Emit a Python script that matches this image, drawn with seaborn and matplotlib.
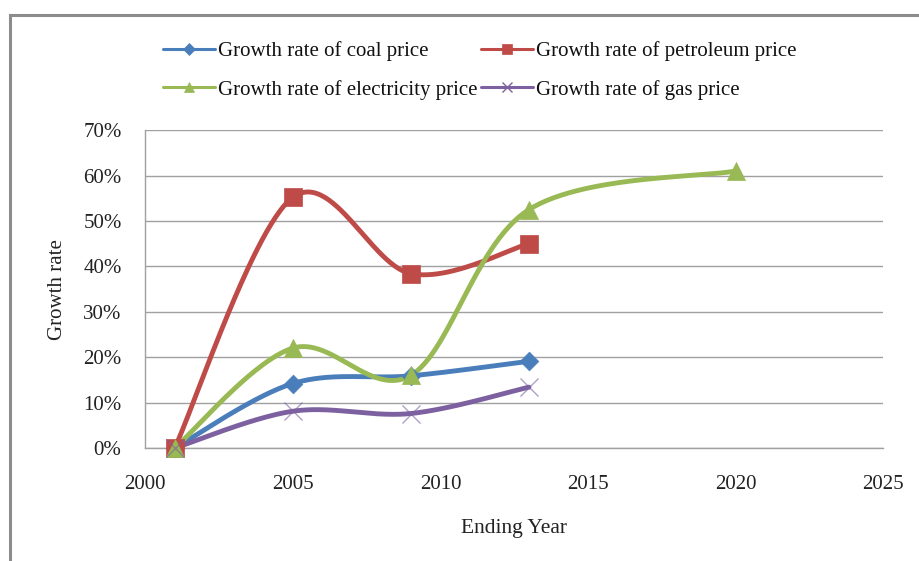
import numpy as np
import pandas as pd
import matplotlib
matplotlib.use("Agg")
import matplotlib.pyplot as plt
from matplotlib.lines import Line2D
from matplotlib.patches import Rectangle
import seaborn as sns

years_short = [2001, 2005, 2009, 2013]
years_elec = [2001, 2005, 2009, 2013, 2020]
coal = [0.0, 14.2, 15.9, 19.1]
petroleum = [0.0, 55.2, 38.4, 45.0]
electricity = [0.0, 22.0, 16.0, 52.5, 61.0]
gas = [0.0, 8.1, 7.6, 13.4]

names = ["Growth rate of coal price", "Growth rate of petroleum price",
         "Growth rate of electricity price", "Growth rate of gas price"]
colors = ["#4A7EBB", "#BE4B48", "#98B954", "#7D60A0"]
markers = ["D", "s", "^", "x"]
msizes = [9.5, 13, 13, 13]

series = [(years_short, coal), (years_short, petroleum), (years_elec, electricity), (years_short, gas)]


def smooth(xs, ys, n=60):
    """Excel-like Catmull-Rom Bezier smoothing."""
    P = np.column_stack([xs, ys]).astype(float)
    out = []
    for i in range(len(P) - 1):
        p0 = P[i - 1] if i > 0 else P[i]
        p1 = P[i]
        p2 = P[i + 1]
        p3 = P[i + 2] if i + 2 < len(P) else P[i + 1]
        c1 = p1 + (p2 - p0) / 6.0
        c2 = p2 - (p3 - p1) / 6.0
        t = np.linspace(0, 1, n)[:, None]
        seg = ((1 - t) ** 3) * p1 + 3 * ((1 - t) ** 2) * t * c1 + 3 * (1 - t) * t ** 2 * c2 + t ** 3 * p2
        out.append(seg if i == 0 else seg[1:])
    return np.vstack(out)


sns.set_style("white")
plt.rcParams["font.family"] = ["Liberation Serif", "DejaVu Serif"]

fig = plt.figure(figsize=(9.19, 5.61), dpi=100)
ax = fig.add_axes([0.158, 0.2014, 0.803, 0.5666])

handles = []
for (xs, ys), name, c, m, ms in zip(series, names, colors, markers, msizes):
    curve = smooth(xs, ys)
    df = pd.DataFrame({"x": curve[:, 0], "y": curve[:, 1]})
    sns.lineplot(data=df, x="x", y="y", sort=False, estimator=None, color=c,
                 linewidth=3.5, ax=ax, zorder=3)
    pts = pd.DataFrame({"x": xs, "y": ys})
    if m == "x":
        sns.scatterplot(data=pts, x="x", y="y", marker="x", s=ms ** 2, color=c,
                        linewidth=1.0, ax=ax, zorder=4, alpha=0.6)
    else:
        sns.scatterplot(data=pts, x="x", y="y", marker=m, s=ms ** 2, color=c,
                        edgecolor=c, linewidth=0.5, ax=ax, zorder=4)
    handles.append(Line2D([], [], color=c, lw=2.2, marker=m, markersize=ms * 0.6,
                          markeredgecolor=c, markeredgewidth=1.0 if m == "x" else 0.5))

ax.set_xlim(2000, 2025)
ax.set_ylim(0, 70)
ax.set_xticks(range(2000, 2026, 5))
ax.set_yticks(range(0, 71, 10))
ax.set_yticklabels([f"{v}%" for v in range(0, 71, 10)])
ax.yaxis.grid(True, color="#A0A0A0", linewidth=1.0)
ax.xaxis.grid(False)
for s in ["top", "right"]:
    ax.spines[s].set_visible(False)
for s in ["left", "bottom"]:
    ax.spines[s].set_color("#A0A0A0")
    ax.spines[s].set_linewidth(1.0)
ax.tick_params(axis="both", which="both", direction="out", length=5, color="#A0A0A0",
               labelsize=15, labelcolor="#222222")
ax.tick_params(axis="x", pad=14.5)
ax.tick_params(axis="y", pad=12)
ax.set_xlabel("Ending Year", fontsize=15.5, labelpad=18, color="#222222")
ax.set_ylabel("Growth rate", fontsize=15, labelpad=12, color="#222222")
ax.set_axisbelow(True)
for coll in ax.collections + ax.lines:
    coll.set_clip_on(False)

order = [0, 2, 1, 3]
fig.legend([handles[i] for i in order], [names[i] for i in order], ncol=2,
           loc="upper left", bbox_to_anchor=(0.157, 0.96), frameon=False,
           fontsize=15, handlelength=2.5, handletextpad=0.15, columnspacing=0.15,
           labelspacing=0.9, labelcolor="#111111")

fig.patches.append(Rectangle((0.011, -0.1), 1.1, 1.073, transform=fig.transFigure,
                             fill=False, edgecolor="#8C8C8C", linewidth=2.2, zorder=0))

fig.savefig("out.png", dpi=100, facecolor="white")
